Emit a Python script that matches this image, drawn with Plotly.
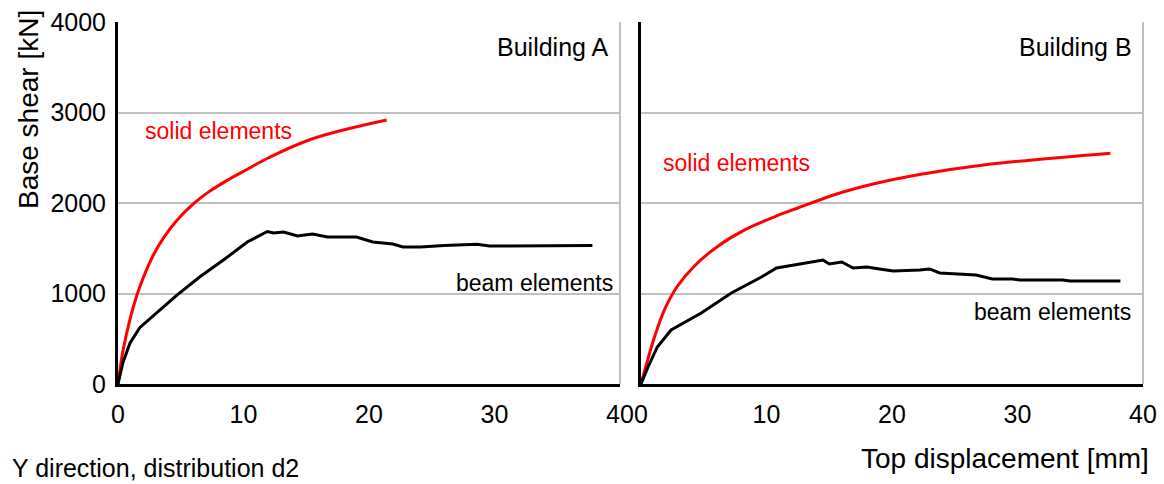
import plotly.graph_objects as go

# Building A
solid_A_x = [0, 0.4, 1.0, 1.5, 2.0, 2.8, 3.6, 4.7, 6.0, 7.2, 8.7, 10.0, 12.0, 15.5, 21.4]
solid_A_y = [0, 370, 740, 980, 1170, 1420, 1610, 1810, 1990, 2120, 2250, 2350, 2500, 2710, 2917]
beam_A_x = [0, 0.2, 0.4, 0.96, 1.75, 3.35, 4.7, 6.5, 8.4, 10.3, 11.9, 12.4, 13.2, 14.3, 15.5, 16.7,
            19.0, 20.3, 21.9, 22.7, 24.1, 26.0, 28.6, 29.6, 33.0, 37.8]
beam_A_y = [0, 130, 240, 453, 625, 818, 983, 1182, 1370, 1569, 1685, 1668, 1680, 1635, 1657, 1624,
            1624, 1569, 1547, 1514, 1514, 1530, 1545, 1525, 1530, 1530]

# Building B
solid_B_x = [0, 0.56, 1.1, 1.9, 2.9, 4.3, 6.1, 8.3, 10.6, 12.5, 15.6, 18.5, 22.2, 27.3, 37.4]
solid_B_y = [0, 280, 530, 830, 1080, 1310, 1520, 1705, 1845, 1945, 2100, 2210, 2315, 2420, 2550]
beam_B_x = [0, 0.56, 1.3, 2.4, 4.8, 7.2, 9.6, 10.8, 12.2, 14.5, 15.0, 16.0, 16.9, 18.0,
            19.0, 20.1, 22.2, 23.0, 23.8, 26.7, 28.0, 29.6, 30.2, 33.6, 34.2, 38.2]
beam_B_y = [0, 188, 409, 597, 785, 1006, 1182, 1282, 1315, 1370, 1326, 1348, 1282, 1293,
            1271, 1249, 1260, 1271, 1227, 1204, 1160, 1160, 1149, 1149, 1138, 1138]

x_ticks = [0, 10, 20, 30, 40]
y_ticks = [0, 1000, 2000, 3000, 4000]

FONT = "Arial, Liberation Sans, sans-serif"
W, H = 1164, 484

fig = go.Figure()
fig.add_trace(go.Scatter(x=solid_A_x, y=solid_A_y, mode="lines",
                         line=dict(color="#ff0000", width=3, shape="spline", smoothing=1.0),
                         xaxis="x", yaxis="y"))
fig.add_trace(go.Scatter(x=beam_A_x, y=beam_A_y, mode="lines",
                         line=dict(color="#000000", width=3), xaxis="x", yaxis="y"))
fig.add_trace(go.Scatter(x=solid_B_x, y=solid_B_y, mode="lines",
                         line=dict(color="#ff0000", width=3, shape="spline", smoothing=1.0),
                         xaxis="x2", yaxis="y2"))
fig.add_trace(go.Scatter(x=beam_B_x, y=beam_B_y, mode="lines",
                         line=dict(color="#000000", width=3), xaxis="x2", yaxis="y2"))

ydom = [1 - 384 / H, 1 - 22 / H]
xaxis_common = dict(range=[0, 40], tickvals=x_ticks, showgrid=False, zeroline=False,
                    showline=True, linecolor="black", linewidth=3, ticks="",
                    automargin=False, ticklabelstandoff=6,
                    tickfont=dict(family=FONT, size=25, color="black"))
yaxis_common = dict(range=[0, 4000], tickvals=y_ticks, showgrid=True, gridcolor="#c0c0c0",
                    gridwidth=1.5, zeroline=False, showline=True, linecolor="black",
                    linewidth=3, ticks="", automargin=False, ticklabelstandoff=4,
                    tickfont=dict(family=FONT, size=25, color="black"))

fig.update_layout(
    width=W, height=H, showlegend=False,
    margin=dict(l=0, r=0, t=0, b=0, pad=0),
    plot_bgcolor="white", paper_bgcolor="white",
    xaxis=dict(domain=[118 / W, 620 / W], anchor="y", **xaxis_common),
    yaxis=dict(domain=ydom, anchor="x", **yaxis_common),
    xaxis2=dict(domain=[641 / W, 1143 / W], anchor="y2", **xaxis_common),
    yaxis2=dict(domain=ydom, anchor="x2", showticklabels=False, **yaxis_common),
)

# Right borders (gray)
for xr, yr in [("x domain", "y domain"), ("x2 domain", "y2 domain")]:
    fig.add_shape(type="line", xref=xr, yref=yr, x0=1, x1=1, y0=0, y1=1,
                  line=dict(color="#c0c0c0", width=2), layer="below")

def ann(text, x, y, xref, yref, xanchor, size, color="black", angle=0):
    fig.add_annotation(text=text, x=x, y=y, xref=xref, yref=yref, xanchor=xanchor,
                       yanchor="middle", showarrow=False, textangle=angle,
                       font=dict(family=FONT, size=size, color=color))

ann("Building A", 39.3, 3724, "x", "y", "right", 25)
ann("Building B", 39.3, 3724, "x2", "y2", "right", 25)
ann("solid elements", 2.0, 2796, "x", "y", "left", 23, "#ff0000")
ann("solid elements", 1.6, 2442, "x2", "y2", "left", 23, "#ff0000")
ann("beam elements", 39.6, 1116, "x", "y", "right", 23)
ann("beam elements", 39.2, 796, "x2", "y2", "right", 23)

ann("Top displacement [mm]", 1151 / W, 1 - 458 / H, "paper", "paper", "right", 28)
ann("Y direction, distribution d2", 10 / W, 1 - 468 / H, "paper", "paper", "left", 25)
fig.add_annotation(text="Base shear [kN]", x=28 / W, y=1 - 110 / H, xref="paper", yref="paper",
                   xanchor="center", yanchor="middle", showarrow=False, textangle=-90,
                   font=dict(family=FONT, size=28, color="black"))

fig.write_html("out.html", config={"displayModeBar": False},
               post_script="document.body.style.margin='0';document.body.style.overflow='hidden';")
